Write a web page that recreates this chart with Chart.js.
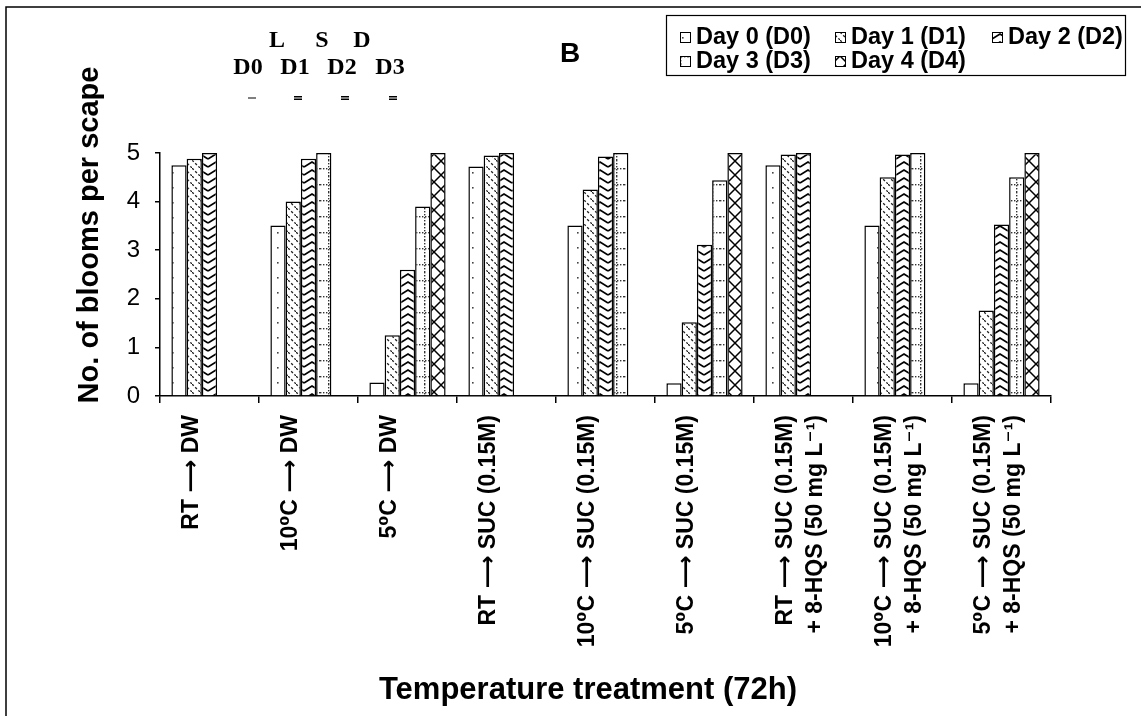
<!DOCTYPE html>
<html>
<head>
<meta charset="utf-8">
<script src="https://cdn.jsdelivr.net/npm/chart.js@4.4.1/dist/chart.umd.min.js"></script>
<style>
  html, body { margin: 0; padding: 0; background: #fff; }
  #wrap { width: 1141px; height: 716px; }
</style>
</head>
<body>
<div id="wrap"><canvas id="bloomChart" width="1141" height="716"></canvas></div>
<script>
// data
const treatments = [
    'RT ⟶ DW',
    '10⁰C ⟶ DW',
    '5⁰C ⟶ DW',
    'RT ⟶ SUC (0.15M)',
    '10⁰C ⟶ SUC (0.15M)',
    '5⁰C ⟶ SUC (0.15M)',
    ['RT ⟶ SUC (0.15M)', '+ 8-HQS (50 mg L⁻¹)'],
    ['10⁰C ⟶ SUC (0.15M)', '+ 8-HQS (50 mg L⁻¹)'],
    ['5⁰C ⟶ SUC (0.15M)', '+ 8-HQS (50 mg L⁻¹)']
];
const dayLabels = ['Day 0 (D0)', 'Day 1 (D1)', 'Day 2 (D2)', 'Day 3 (D3)', 'Day 4 (D4)'];
const day0 = [4.75, 3.51, 0.28, 4.72, 3.51, 0.26, 4.75, 3.51, 0.26];
const day1 = [4.88, 4.00, 1.25, 4.95, 4.25, 1.52, 4.97, 4.50, 1.76];
const day2 = [5.00, 4.88, 2.60, 5.00, 4.93, 3.11, 5.00, 4.97, 3.53];
const day3 = [null, 5.00, 3.90, null, 5.00, 4.44, null, 5.00, 4.50];
const day4 = [null, null, 5.00, null, null, 5.00, null, null, 5.00];
const yTicks = [0, 1, 2, 3, 4, 5];
const lsdTop = ['L', 'S', 'D'];
const lsdDays = ['D0', 'D1', 'D2', 'D3'];

const SANS = '"Liberation Sans", Arial, "DejaVu Sans", sans-serif';
const SERIF = '"Liberation Serif", "Times New Roman", serif';

// fill patterns, black & white like the print figure
function makePattern(w, h, draw) {
    const c = document.createElement('canvas');
    c.width = w; c.height = h;
    const g = c.getContext('2d');
    g.fillStyle = '#fff';
    g.fillRect(0, 0, w, h);
    draw(g);
    return g.createPattern(c, 'repeat');
}

const patDots = makePattern(15, 15, g => {
    g.fillStyle = '#444';
    g.fillRect(7, 7, 1.6, 1.6);
});
const patDash = makePattern(8, 8, g => {
    g.strokeStyle = '#222';
    g.lineWidth = 1.3;
    g.setLineDash([2.5, 2]);
    g.beginPath(); g.moveTo(0, 0); g.lineTo(8, 8); g.stroke();
});
const patChevron = makePattern(16, 8, g => {
    g.strokeStyle = '#000';
    g.lineWidth = 1.6;
    g.beginPath(); g.moveTo(0, 7); g.lineTo(8, 2); g.lineTo(16, 7); g.stroke();
});
const patDotGrid = makePattern(16, 16, g => {
    g.fillStyle = '#333';
    for (let x = 0; x < 16; x += 3) g.fillRect(x, 8, 1.4, 1.4);
    for (let y = 0; y < 16; y += 3) g.fillRect(8, y, 1.4, 1.4);
});
const patCross = makePattern(14, 14, g => {
    g.strokeStyle = '#000';
    g.lineWidth = 1.5;
    g.beginPath();
    g.moveTo(0, 0); g.lineTo(14, 14);
    g.moveTo(14, 0); g.lineTo(0, 14);
    g.stroke();
});
const patterns = [patDots, patDash, patChevron, patDotGrid, patCross];
const series = [day0, day1, day2, day3, day4];

// titles, legend, LSD note and frame drawn on top
const decorations = {
    id: 'decorations',
    afterDraw(chart) {
        const ctx = chart.ctx;
        ctx.save();
        ctx.fillStyle = '#000';
        ctx.strokeStyle = '#000';

        // outer frame (left + top)
        ctx.lineWidth = 1.5;
        ctx.beginPath();
        ctx.moveTo(6, 716); ctx.lineTo(6, 7); ctx.lineTo(1141, 7);
        ctx.stroke();

        // y title
        ctx.save();
        ctx.translate(90, 235);
        ctx.rotate(-Math.PI / 2);
        ctx.font = 'bold 29px ' + SANS;
        ctx.textAlign = 'center';
        ctx.textBaseline = 'middle';
        ctx.fillText('No. of blooms per scape', 0, 0);
        ctx.restore();

        // x title
        ctx.font = 'bold 31px ' + SANS;
        ctx.textAlign = 'center';
        ctx.textBaseline = 'middle';
        ctx.fillText('Temperature treatment (72h)', 588, 690);

        // panel letter
        ctx.font = 'bold 28px ' + SANS;
        ctx.fillText('B', 570, 54);

        // LSD note
        ctx.font = 'bold 24px ' + SERIF;
        const topX = [277, 322, 362];
        lsdTop.forEach((t, i) => ctx.fillText(t, topX[i], 41));
        const dayX = [248, 295, 342, 390];
        lsdDays.forEach((t, i) => ctx.fillText(t, dayX[i], 68));
        ctx.lineWidth = 1;
        dayX.forEach((x, i) => {
            const cx = x + (i === 0 ? 4 : 3);
            ctx.beginPath();
            ctx.moveTo(cx - 4, 98); ctx.lineTo(cx + 4, 98);
            if (i > 0) {
                ctx.moveTo(cx - 4, 96.5); ctx.lineTo(cx + 4, 96.5);
                ctx.moveTo(cx - 4, 99.5); ctx.lineTo(cx + 4, 99.5);
            }
            ctx.stroke();
        });

        // legend box
        ctx.lineWidth = 1.2;
        ctx.strokeRect(666.5, 15.5, 459, 60);
        const pos = [[680, 37], [835, 37], [992, 37], [680, 61], [835, 61]];
        ctx.font = 'bold 23.5px ' + SANS;
        ctx.textAlign = 'left';
        dayLabels.forEach((lab, i) => {
            const [x, y] = pos[i];
            ctx.fillStyle = patterns[i];
            ctx.fillRect(x, y - 5, 10, 10);
            ctx.lineWidth = 1;
            ctx.strokeRect(x + 0.5, y - 4.5, 10, 10);
            ctx.fillStyle = '#000';
            ctx.fillText(lab, x + 16, y + 1);
        });
        ctx.restore();
    }
};

new Chart(document.getElementById('bloomChart'), {
    type: 'bar',
    data: {
        labels: treatments,
        datasets: series.map((d, i) => ({
            label: dayLabels[i],
            data: d,
            backgroundColor: patterns[i],
            borderColor: '#000',
            borderWidth: 1.5,
            borderSkipped: 'start',
            barPercentage: 1.0,
            categoryPercentage: 0.77,
            clip: false
        }))
    },
    options: {
        responsive: false,
        animation: false,
        layout: { padding: { left: 0, right: 90, top: 153, bottom: 0 } },
        plugins: {
            legend: { display: false },
            tooltip: { enabled: false }
        },
        scales: {
            x: {
                afterFit: s => { s.height = 320; },
                border: { display: true, color: '#000', width: 1.5 },
                grid: { offset: true, drawOnChartArea: false, drawTicks: true, tickLength: 7, color: '#000', lineWidth: 1.5 },
                ticks: {
                    autoSkip: false,
                    minRotation: 90,
                    maxRotation: 90,
                    padding: 12,
                    labelOffset: -18,
                    color: '#000',
                    font: { family: SANS, size: 23, weight: 'bold', lineHeight: 1.3 }
                }
            },
            y: {
                min: 0,
                max: 5,
                afterFit: s => { s.width = 160; },
                afterBuildTicks: s => { s.ticks = yTicks.map(v => ({ value: v })); },
                border: { display: true, color: '#000', width: 1.5 },
                grid: { drawOnChartArea: false, drawTicks: true, tickLength: 5, color: '#000', lineWidth: 1.5 },
                ticks: {
                    padding: 15,
                    color: '#000',
                    font: { family: SANS, size: 24, weight: 'normal' }
                }
            }
        }
    },
    plugins: [decorations]
});
</script>
</body>
</html>
